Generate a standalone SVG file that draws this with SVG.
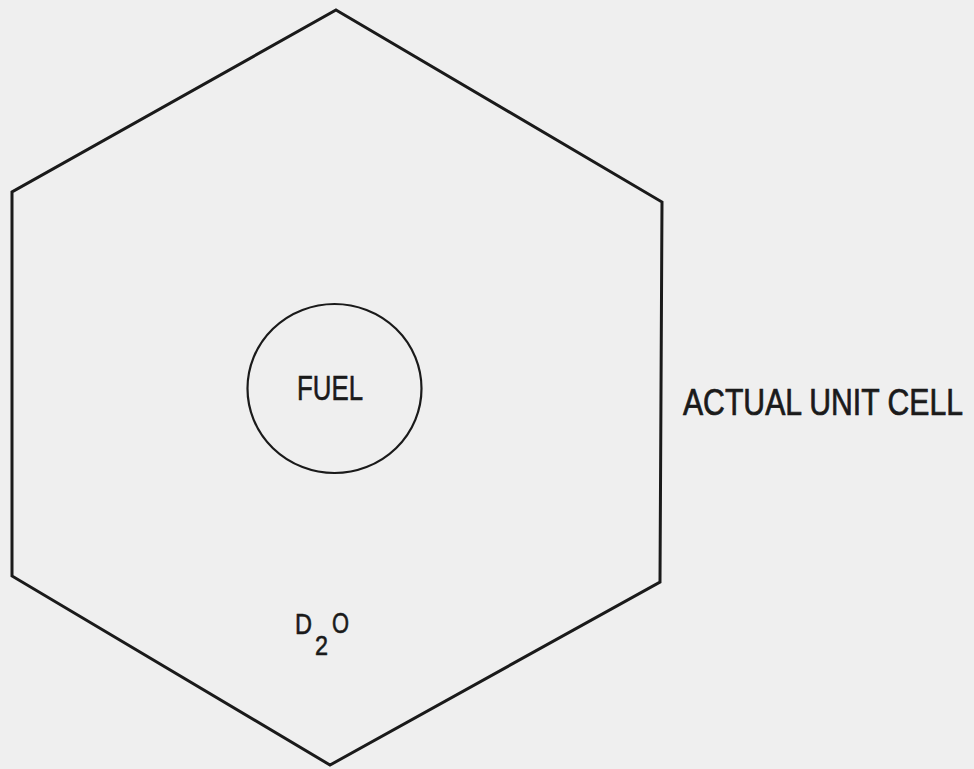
<svg xmlns="http://www.w3.org/2000/svg" width="974" height="769" viewBox="0 0 974 769">
<style>
.ln{fill:none;stroke:#1a1a1a;stroke-linejoin:miter}
.t{font-family:"Liberation Sans",Arial,sans-serif;fill:#1a1a1a;stroke:#1a1a1a;stroke-width:0.6}
</style>
<rect width="974" height="769" fill="#efefef"/>
<g id="cell">
<polygon class="ln" stroke-width="3" points="336,10 662,202 660,582 330,765 12,576 12,192"/>
</g>
<g id="fuel">
<ellipse class="ln" stroke-width="2.2" cx="334.5" cy="388.5" rx="87" ry="84.5"/>
<text class="t" x="297" y="400" font-size="35" textLength="66" lengthAdjust="spacingAndGlyphs">FUEL</text>
</g>
<g id="d2o">
<text class="t" x="295" y="634" font-size="29" textLength="17" lengthAdjust="spacingAndGlyphs">D</text>
<text class="t" x="315" y="655" font-size="28" textLength="13" lengthAdjust="spacingAndGlyphs">2</text>
<text class="t" x="332" y="633" font-size="29" textLength="17" lengthAdjust="spacingAndGlyphs">O</text>
</g>
<g id="label">
<text class="t" transform="translate(683,415) scale(1,1.2)" x="0" y="0" font-size="30" textLength="280" lengthAdjust="spacingAndGlyphs">ACTUAL UNIT CELL</text>
</g>
<g id="connectors"></g>
</svg>
